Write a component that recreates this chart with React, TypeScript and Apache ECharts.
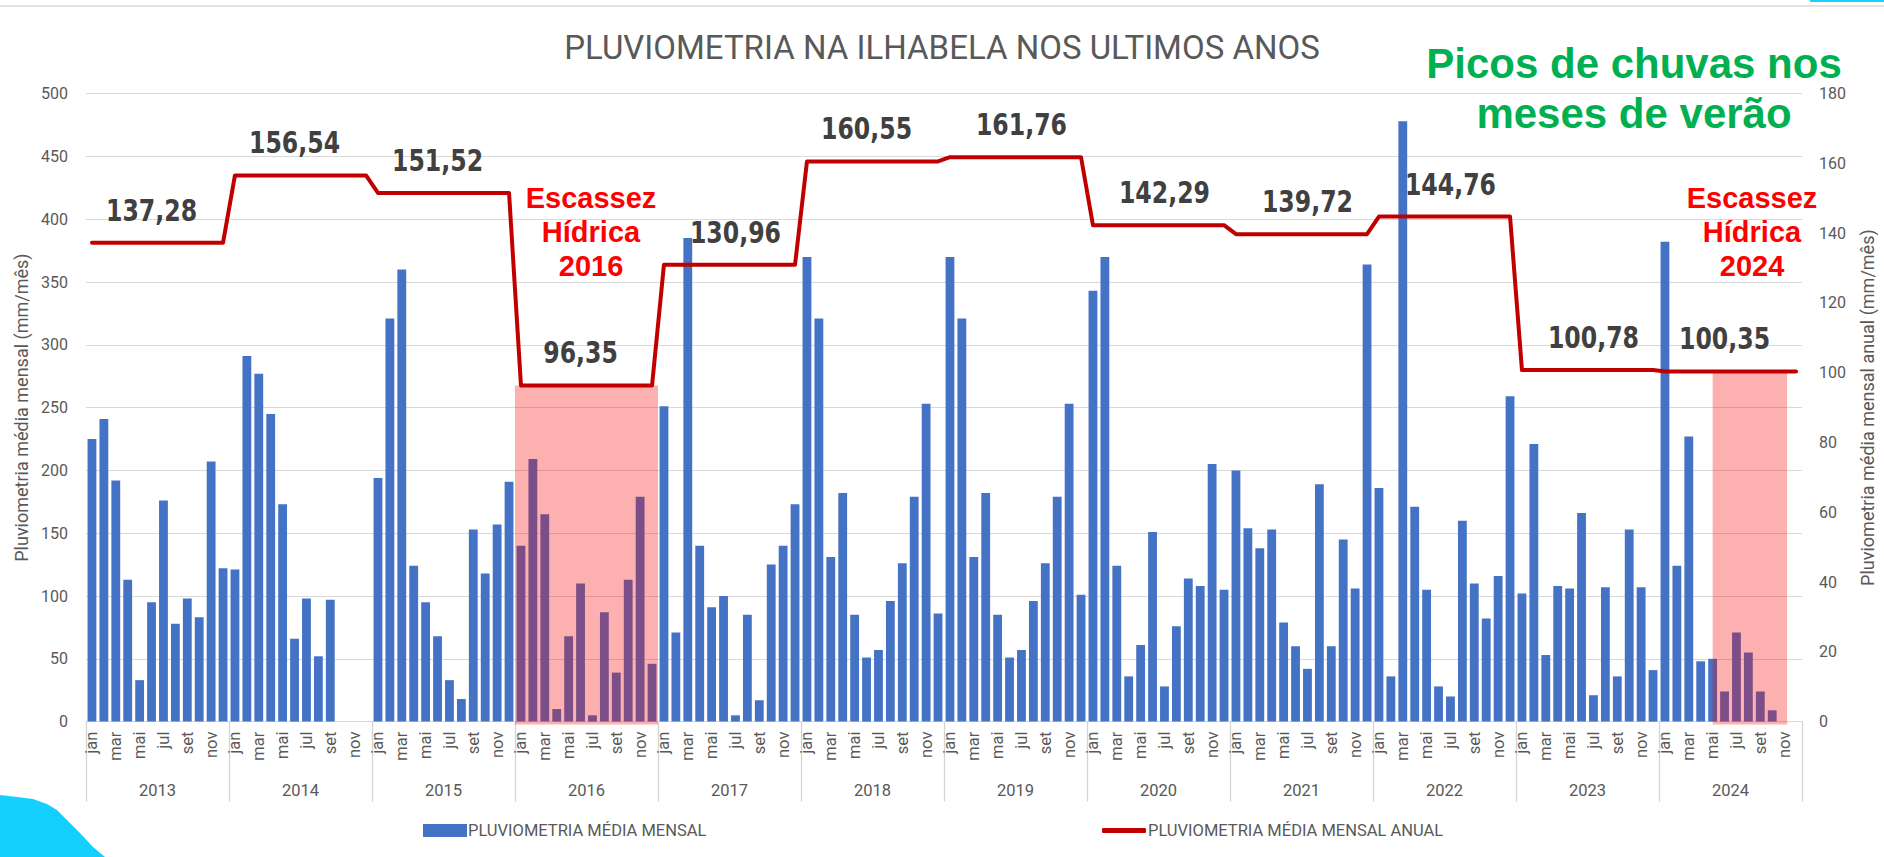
import React, { useEffect, useRef } from "react";
import * as echarts from "echarts";

// ---------- data ----------
const months = ["jan", "fev", "mar", "abr", "mai", "jun", "jul", "ago", "set", "out", "nov", "dez"];
const years = ["2013", "2014", "2015", "2016", "2017", "2018", "2019", "2020", "2021", "2022", "2023", "2024"];

const rain2013 = [225, 241, 192, 113, 33, 95, 176, 78, 98, 83, 207, 122];
const rain2014 = [121, 291, 277, 245, 173, 66, 98, 52, 97, null, null, null];
const rain2015 = [194, 321, 360, 124, 95, 68, 33, 18, 153, 118, 157, 191];
const rain2016 = [140, 209, 165, 10, 68, 110, 5, 87, 39, 113, 179, 46];
const rain2017 = [251, 71, 385, 140, 91, 100, 5, 85, 17, 125, 140, 173];
const rain2018 = [370, 321, 131, 182, 85, 51, 57, 96, 126, 179, 253, 86];
const rain2019 = [370, 321, 131, 182, 85, 51, 57, 96, 126, 179, 253, 101];
const rain2020 = [343, 370, 124, 36, 61, 151, 28, 76, 114, 108, 205, 105];
const rain2021 = [200, 154, 138, 153, 79, 60, 42, 189, 60, 145, 106, 364];
const rain2022 = [186, 36, 478, 171, 105, 28, 20, 160, 110, 82, 116, 259];
const rain2023 = [102, 221, 53, 108, 106, 166, 21, 107, 36, 153, 107, 41];
const rain2024 = [382, 124, 227, 48, 50, 24, 71, 55, 24, 9, null, null];

const annualMean = [137.28, 156.54, 151.52, 96.35, 130.96, 160.55, 161.76, 142.29, 139.72, 144.76, 100.78, 100.35];
// month at which each annual value is labelled
const annualLabelMonth = ["jun", "jun", "jun", "jun", "jul", "jun", "jul", "jul", "jul", "jul", "jul", "jun"];

const shortages = [
  { year: "2016", from: "jan", to: "dez" },
  { year: "2024", from: "mai", to: "nov" },
];

const yLeftTicks = { min: 0, max: 500, interval: 50 };
const yRightTicks = { min: 0, max: 180, interval: 20 };

const seriesNames = ["PLUVIOMETRIA MÉDIA MENSAL", "PLUVIOMETRIA MÉDIA MENSAL ANUAL"];

// ---------- styling (not data) ----------
const SHADE_EDGES = [
  [-0.5, 0.5],
  [0, 0.25],
];
const FONT = "Roboto, 'Noto Sans', sans-serif";
const GRAY = "#595959";

export default function App() {
  const ref = useRef<HTMLDivElement>(null);

  useEffect(() => {
    document.body.style.margin = "0";
    if (!ref.current) return;
    const chart = echarts.init(ref.current, undefined, { renderer: "svg" });

    const monthlyRain = [rain2013, rain2014, rain2015, rain2016, rain2017, rain2018, rain2019, rain2020, rain2021, rain2022, rain2023, rain2024];
    const categories = years.flatMap((y) => months.map((m) => `${y}-${m}`));
    const barData = monthlyRain.flat();
    const lineData = annualMean.flatMap((v) => months.map(() => v));
    const labelData = annualMean.map((v, i) => [i * 12 + months.indexOf(annualLabelMonth[i]), v]);
    const shadeData = shortages.map((s, k) => {
      const yi = years.indexOf(s.year);
      return [yi * 12 + months.indexOf(s.from), yi * 12 + months.indexOf(s.to), annualMean[yi], SHADE_EDGES[k][0], SHADE_EDGES[k][1]];
    });
    const fmt = (v: number) => v.toFixed(2).replace(".", ",");

    const option: any = {
      animation: false,
      backgroundColor: "#ffffff",
      title: {
        text: "PLUVIOMETRIA NA ILHABELA NOS ULTIMOS ANOS",
        left: "center",
        top: 26,
        textStyle: { color: GRAY, fontSize: 33, fontWeight: "normal", fontFamily: FONT },
      },
      legend: [
        {
          data: [seriesNames[0]],
          left: 418,
          top: 817,
          itemWidth: 44,
          itemHeight: 13,
          icon: "rect",
          textStyle: { color: GRAY, fontSize: 16.5, fontFamily: FONT, padding: [0, 0, 0, -4] },
        },
        {
          data: [{ name: seriesNames[1], icon: "roundRect" }],
          left: 1097,
          top: 817,
          itemWidth: 44,
          itemHeight: 5,
          textStyle: { color: GRAY, fontSize: 16.5, fontFamily: FONT, padding: [0, 0, 0, -3] },
        },
      ],
      grid: { left: 86, right: 78, top: 93.6, bottom: 135.4, containLabel: false },
      xAxis: [
        {
          type: "category",
          data: categories,
          position: "bottom",
          axisLine: { show: true, lineStyle: { color: "#D9D9D9", width: 1 } },
          axisTick: { show: false },
          axisLabel: {
            interval: 1,
            rotate: 90,
            margin: 10,
            color: GRAY,
            fontSize: 16.5,
            fontFamily: FONT,
            formatter: (v: string) => v.split("-")[1],
          },
        },
        {
          type: "category",
          data: years,
          position: "bottom",
          gridIndex: 0,
          axisLine: { show: false },
          axisTick: { show: true, length: 80, lineStyle: { color: "#D4D4D4", width: 1.3 } },
          axisLabel: { margin: 60, color: GRAY, fontSize: 16.5, fontFamily: FONT },
        },
      ],
      yAxis: [
        {
          type: "value",
          ...yLeftTicks,
          position: "left",
          name: "Pluviometria média mensal (mm/mês)",
          nameLocation: "middle",
          nameRotate: 90,
          nameGap: 55,
          nameTextStyle: { color: GRAY, fontSize: 18, fontFamily: FONT },
          axisLine: { show: false },
          axisTick: { show: false },
          splitLine: { show: true, lineStyle: { color: "#D9D9D9", width: 1 } },
          axisLabel: { margin: 18, color: GRAY, fontSize: 16, fontFamily: FONT },
        },
        {
          type: "value",
          ...yRightTicks,
          position: "right",
          name: "Pluviometria média mensal anual (mm/mês)",
          nameLocation: "middle",
          nameRotate: 90,
          nameGap: 56,
          nameTextStyle: { color: GRAY, fontSize: 18, fontFamily: FONT },
          axisLine: { show: false },
          axisTick: { show: false },
          splitLine: { show: false },
          axisLabel: { margin: 17, color: GRAY, fontSize: 16, fontFamily: FONT },
        },
      ],
      series: [
        {
          name: seriesNames[0],
          type: "bar",
          xAxisIndex: 0,
          yAxisIndex: 0,
          data: barData,
          barWidth: "74%",
          itemStyle: { color: "#4472C4" },
          z: 2,
        },
        {
          name: "shade",
          type: "custom",
          xAxisIndex: 0,
          yAxisIndex: 1,
          data: shadeData,
          encode: { x: 0, y: 2 },
          z: 3,
          silent: true,
          renderItem: (params: any, api: any) => {
            const bw = api.size([1, 0])[0];
            const i0 = api.value(0);
            const i1 = api.value(1);
            const x0 = api.coord([i0, 0])[0] + api.value(3) * bw;
            const x1 = api.coord([i1, 0])[0] + api.value(4) * bw;
            const yb = api.coord([i0, 0])[1];
            const yt = api.coord([i0, api.value(2)])[1];
            return {
              type: "rect",
              shape: { x: x0, y: yt, width: x1 - x0, height: yb - yt + 3 },
              style: { fill: "rgba(250,0,0,0.31)" },
            };
          },
        },
        {
          name: seriesNames[1],
          type: "line",
          xAxisIndex: 0,
          yAxisIndex: 1,
          data: lineData,
          symbol: "none",
          showSymbol: false,
          lineStyle: { color: "#C00000", width: 4, join: "round", cap: "round" },
          itemStyle: { color: "#C00000" },
          z: 5,
        },
        {
          name: "labels",
          type: "custom",
          xAxisIndex: 0,
          yAxisIndex: 1,
          data: labelData,
          encode: { x: 0, y: 1 },
          z: 6,
          silent: true,
          renderItem: (params: any, api: any) => {
            const p = api.coord([api.value(0), api.value(1)]);
            return {
              type: "text",
              x: p[0],
              y: p[1] - 32.5,
              scaleX: 0.8,
              style: {
                text: fmt(api.value(1)),
                fill: "#404040",
                fontSize: 29.5,
                fontWeight: "bold",
                fontFamily: "'DejaVu Sans', sans-serif",
                align: "center",
                verticalAlign: "middle",
                textAlign: "center",
                textVerticalAlign: "middle",
              },
            };
          },
        },
      ],
      graphic: [
        { type: "rect", shape: { x: 0, y: 5, width: 1884, height: 2 }, style: { fill: "#E2E2E2" }, silent: true },
        { type: "rect", shape: { x: 1810, y: 0, width: 74, height: 2 }, style: { fill: "#15CFFE" }, silent: true },
        {
          type: "polygon",
          shape: {
            points: [
              [0, 795], [17, 797], [33, 799], [47, 804], [57, 810], [67, 820], [80, 833], [93, 847], [105, 857], [0, 857],
            ],
          },
          style: { fill: "#15CFFE" },
          silent: true,
        },
        {
          type: "text",
          x: 591,
          y: 232,
          style: {
            text: "Escassez\nHídrica\n2016",
            fill: "#FF0000",
            fontSize: 29,
            fontWeight: "bold",
            fontFamily: "'Liberation Sans', Arial, sans-serif",
            lineHeight: 34,
            align: "center",
            verticalAlign: "middle",
            textAlign: "center",
            textVerticalAlign: "middle",
          },
          z: 10,
        },
        {
          type: "text",
          x: 1752,
          y: 232,
          style: {
            text: "Escassez\nHídrica\n2024",
            fill: "#FF0000",
            fontSize: 29,
            fontWeight: "bold",
            fontFamily: "'Liberation Sans', Arial, sans-serif",
            lineHeight: 34,
            align: "center",
            verticalAlign: "middle",
            textAlign: "center",
            textVerticalAlign: "middle",
          },
          z: 10,
        },
        {
          type: "text",
          x: 1634,
          y: 88.5,
          style: {
            text: "Picos de chuvas nos\nmeses de verão",
            fill: "#00B050",
            fontSize: 42,
            fontWeight: "bold",
            fontFamily: "'Liberation Sans', Arial, sans-serif",
            lineHeight: 50,
            align: "center",
            verticalAlign: "middle",
            textAlign: "center",
            textVerticalAlign: "middle",
          },
          z: 10,
        },
      ],
    };

    chart.setOption(option);
    return () => chart.dispose();
  }, []);

  return <div ref={ref} style={{ width: 1884, height: 857 }} />;
}
